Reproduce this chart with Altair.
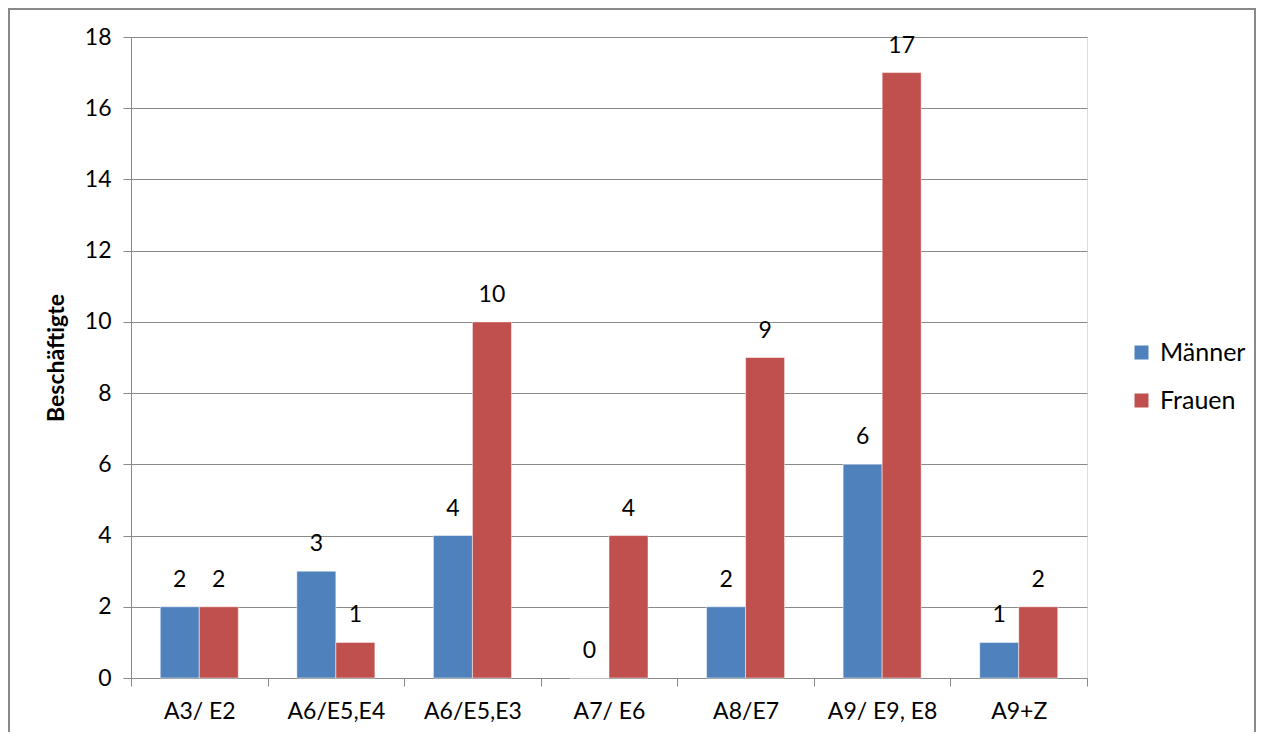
import altair as alt
import pandas as pd

categories = ["A3/ E2", "A6/E5,E4", "A6/E5,E3", "A7/ E6", "A8/E7", "A9/ E9, E8", "A9+Z"]
maenner = [2, 3, 4, 0, 2, 6, 1]
frauen = [2, 1, 10, 4, 9, 17, 2]
series = ["Männer", "Frauen"]
colors = ["#4F81BD", "#C0504D"]

rows = []
for c, m, f in zip(categories, maenner, frauen):
    rows.append({"cat": c, "series": "Männer", "value": m})
    rows.append({"cat": c, "series": "Frauen", "value": f})
df = pd.DataFrame(rows)

FONT = "Lato"
W, H = 956, 641

x = alt.X("cat:N", sort=categories, title=None,
          scale=alt.Scale(paddingInner=0, paddingOuter=0),
          axis=alt.Axis(labelAngle=0, labelFontSize=23, labelColor="#000", labelFont=FONT,
                        tickBand="extent", tickSize=8, tickColor="#898989",
                        domainColor="#898989", labelPadding=14))
xo = alt.XOffset("series:N", sort=series, scale=alt.Scale(paddingInner=0, paddingOuter=0.75))

bars = alt.Chart(df).mark_bar(stroke="white", strokeWidth=0.5).encode(
    x=x, xOffset=xo,
    y=alt.Y("value:Q", title="Beschäftigte",
            scale=alt.Scale(domain=[0, 18], nice=False),
            axis=alt.Axis(values=list(range(0, 19, 2)), labelFontSize=23, labelFont=FONT,
                          labelColor="#000", titleFont=FONT, titleFontSize=23, titleFontWeight="bold",
                          titleColor="#000", titlePadding=16, tickSize=8, tickColor="#898989",
                          domainColor="#898989", gridColor="#898989", labelPadding=12)),
    color=alt.Color("series:N", sort=series, scale=alt.Scale(domain=series, range=colors),
                    legend=alt.Legend(title=None, orient="none", legendX=998, legendY=303,
                                      symbolType="square", symbolSize=196, symbolStrokeWidth=0,
                                      labelFontSize=25, labelFont=FONT, labelColor="#000",
                                      rowPadding=22, labelOffset=6)),
)

labels = alt.Chart(df).mark_text(fontSize=23, font=FONT, color="#000", baseline="middle", dy=-27).encode(
    x=x, xOffset=xo, y="value:Q", text="value:Q"
)

border = alt.Chart(pd.DataFrame({"a": [0]})).mark_rect(
    fill=None, stroke="#898989", strokeWidth=2, clip=False
).encode(x=alt.value(-122), x2=alt.value(W + 168), y=alt.value(-28), y2=alt.value(H + 100))

chart = alt.layer(border, bars, labels).properties(
    width=W, height=H,
    autosize=alt.AutoSizeParams(type="none"),
    padding={"left": 123, "top": 29, "right": 170, "bottom": 54},
).configure_view(stroke=None).configure(background="white")

chart.save("out.html", embed_options={"renderer": "svg", "actions": False})
